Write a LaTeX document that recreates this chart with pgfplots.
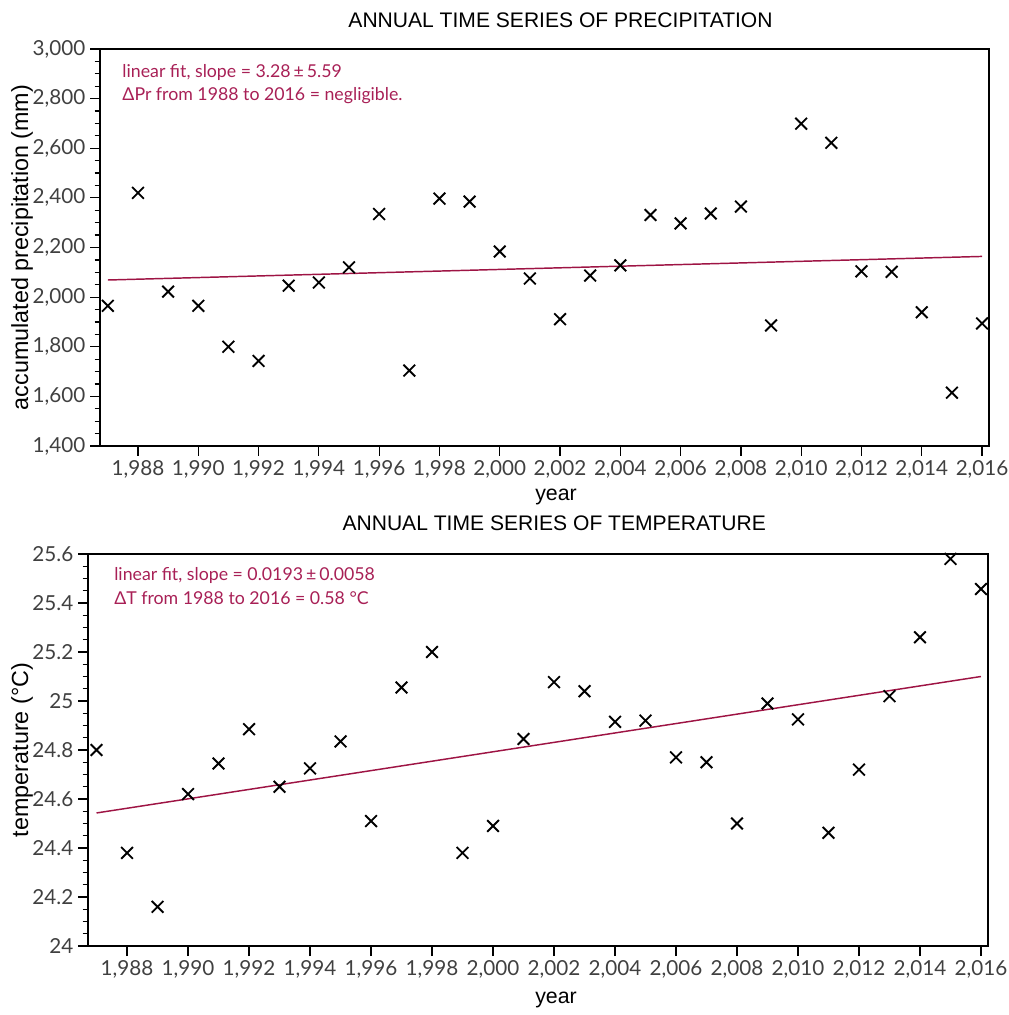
\documentclass[border=0pt]{standalone}
\usepackage{pgfplots}
\pgfplotsset{compat=1.18}
\usepackage{pgfplotstable}
\usepackage{fontspec}
\setmainfont{Lato}
\newfontfamily\helv{Liberation Sans}
\definecolor{fitred}{RGB}{158,20,68}
\definecolor{notered}{RGB}{168,32,86}
\definecolor{tickgray}{RGB}{64,64,64}

% annual precipitation (mm)
\pgfplotstableread{
year pr
1987 1965
1988 2420
1989 2022
1990 1965
1991 1800
1992 1743
1993 2046
1994 2059
1995 2120
1996 2335
1997 1704
1998 2397
1999 2385
2000 2184
2001 2075
2002 1911
2003 2087
2004 2128
2005 2331
2006 2297
2007 2337
2008 2365
2009 1886
2010 2699
2011 2622
2012 2104
2013 2102
2014 1939
2015 1615
2016 1894
}\prtable

% annual mean temperature (degC)
\pgfplotstableread{
year t
1987 24.80
1988 24.38
1989 24.16
1990 24.62
1991 24.745
1992 24.885
1993 24.65
1994 24.725
1995 24.835
1996 24.51
1997 25.055
1998 25.20
1999 24.38
2000 24.49
2001 24.845
2002 25.077
2003 25.04
2004 24.915
2005 24.92
2006 24.77
2007 24.75
2008 24.50
2009 24.99
2010 24.925
2011 24.462
2012 24.72
2013 25.02
2014 25.26
2015 25.58
2016 25.457
}\ttable

\pgfplotsset{
  tsaxis/.style={
    scale only axis,
    anchor=south west,
    axis line style={line width=1.5pt},
    tick align=outside, tick pos=left,
    major tick length=7.5pt, minor tick length=4pt,
    tick style={black, line width=0.9pt},
    ticklabel style={font=\fontsize{15.5}{16}\selectfont, text=tickgray},
    /pgf/number format/assume math mode=true,
    xlabel style={font=\helv\fontsize{16}{17}\selectfont},
    ylabel style={font=\helv\fontsize{17.5}{18}\selectfont},
    xlabel={year},
    minor y tick num=3,
    clip=false,
  },
  obs/.style={only marks, mark=x, mark size=6.2pt, black, line width=1.4pt},
  fit/.style={fitred, line width=1.1pt, no marks},
}

\begin{document}
\begin{tikzpicture}
\useasboundingbox (0,0) rectangle (756.75pt,761.25pt);

\begin{axis}[tsaxis,
    at={(75pt,426.75pt)}, width=666.75pt, height=297.75pt,
    xmin=1986.74, xmax=2016.23, ymin=1400, ymax=3000,
    xtick={1988,1990,...,2016},
    ytick={1400,1600,...,3000},
    xlabel style={at={(axis description cs:0.513,-0.1285)}, anchor=center},
    ylabel={accumulated precipitation (mm)},
    ylabel style={at={(axis description cs:-0.0877,0.5)}, anchor=center},
  ]
  \addplot[fit] coordinates {(1987,2069) (2016,2164)};
  \addplot[obs] table[x=year, y=pr] {\prtable};
  \node[font=\helv\fontsize{15.8}{16}\selectfont] at (axis description cs:0.518,1) [yshift=21.75pt] {ANNUAL TIME SERIES OF PRECIPITATION};
  \node[anchor=west, text=notered, font=\fontsize{13.3}{14}\selectfont] at (axis description cs:0.02,0.94) {linear fit, slope = 3.28\,±\,5.59};
  \node[anchor=west, text=notered, font=\fontsize{13.3}{14}\selectfont] at (axis description cs:0.02,0.882) {ΔPr from 1988 to 2016 = negligible.};
\end{axis}

\begin{axis}[tsaxis,
    at={(66pt,51.75pt)}, width=675pt, height=294pt,
    xmin=1986.72, xmax=2016.23, ymin=24, ymax=25.6,
    xtick={1988,1990,...,2016},
    minor x tick num=3,
    ytick={24,24.2,...,25.6},
    xlabel style={at={(axis description cs:0.52,-0.1378)}, anchor=center},
    ylabel={temperature (°C)},
    ylabel style={at={(axis description cs:-0.0733,0.5)}, anchor=center},
  ]
  \addplot[fit] coordinates {(1987,24.543) (2016,25.100)};
  \addplot[obs] table[x=year, y=t] {\ttable};
  \node[font=\helv\fontsize{15.8}{16}\selectfont] at (axis description cs:0.518,1) [yshift=23.25pt] {ANNUAL TIME SERIES OF TEMPERATURE};
  \node[anchor=west, text=notered, font=\fontsize{13.3}{14}\selectfont] at (axis description cs:0.024,0.946) {linear fit, slope = 0.0193\,±\,0.0058};
  \node[anchor=west, text=notered, font=\fontsize{13.3}{14}\selectfont] at (axis description cs:0.024,0.888) {ΔT from 1988 to 2016 = 0.58 °C};
\end{axis}
\end{tikzpicture}
\end{document}
